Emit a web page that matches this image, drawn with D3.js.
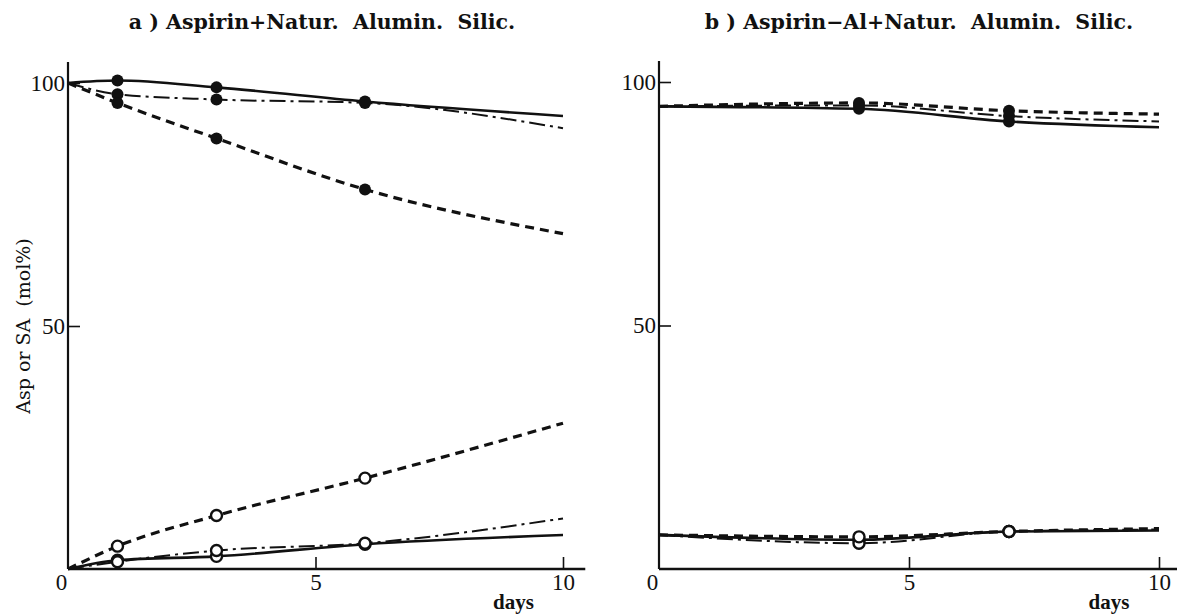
<!DOCTYPE html>
<html>
<head>
<meta charset="utf-8">
<script src="https://cdn.jsdelivr.net/npm/d3@7"></script>
<style>
  body { margin: 0; background: #fff; }
  text { font-family: "Liberation Serif", "DejaVu Serif", serif; fill: #111; }
</style>
</head>
<body>
<div id="chart"></div>
<script>
// data (days vs mol %)
var daysA = [0, 1, 3, 6, 10];
var aspSolidA = [100, 100.5, 99.1, 96.2, 93.2];
var aspDashDotA = [100, 97.7, 96.6, 95.9, 90.7];
var aspDashedA = [100, 95.9, 88.6, 78.1, 69];
var saSolidA = [0, 1.8, 2.6, 5.1, 7.0];
var saDashDotA = [0, 1.5, 3.8, 5.3, 10.4];
var saDashedA = [0, 4.7, 11.0, 18.7, 30.0];

var daysB = [0, 4, 7, 10];
var aspSolidB = [95, 94.5, 91.9, 90.7];
var aspDashDotB = [95, 95.2, 93.0, 91.9];
var aspDashedB = [95, 95.7, 94.1, 93.4];
var saSolidB = [7.0, 6.0, 7.7, 7.9];
var saDashDotB = [7.0, 5.3, 7.7, 8.1];
var saDashedB = [7.0, 6.6, 7.7, 8.3];

var xTicks = [0, 5, 10];
var yTicks = [50, 100];
var titleA = "a ) Aspirin+Natur.  Alumin.  Silic.";
var titleB = "b ) Aspirin\u2212Al+Natur.  Alumin.  Silic.";

var svg = d3.select("#chart").append("svg")
  .attr("width", 1179)
  .attr("height", 616);

// line styles
var styles = {
  solid: { width: 2.6, dash: null },
  dashdot: { width: 2, dash: "16,5,3,5" },
  dashed: { width: 3.2, dash: "9,6" }
};

function drawPanel(opt) {
  var x = d3.scaleLinear().domain([0, 10]).range(opt.xr);
  var y = d3.scaleLinear().domain([0, 100]).range(opt.yr);
  var g = svg.append("g");

  // y axis
  var yAx = g.append("g")
    .attr("transform", "translate(" + x(0) + ",0)")
    .call(d3.axisLeft(y).tickValues(yTicks).tickSize(-12).tickPadding(3));
  yAx.select(".domain").remove();
  yAx.selectAll("line").attr("stroke", "#111").attr("stroke-width", 1.6);
  yAx.selectAll("text").attr("font-size", 23).attr("fill", "#111")
    .style("font-family", "Liberation Serif");

  g.append("line")
    .attr("x1", x(0)).attr("x2", x(0))
    .attr("y1", y(0)).attr("y2", y(104.3))
    .attr("stroke", "#111").attr("stroke-width", 2.2);

  // x axis
  var xAx = g.append("g")
    .attr("transform", "translate(0," + y(0) + ")")
    .call(d3.axisBottom(x).tickValues(xTicks).tickSize(-12).tickPadding(5));
  xAx.select(".domain").remove();
  xAx.selectAll("line").attr("stroke", "#111").attr("stroke-width", 1.6)
    .filter(function(d) { return d === 0; }).remove();
  xAx.selectAll("text").attr("font-size", 23).attr("fill", "#111")
    .style("font-family", "Liberation Serif")
    .attr("dx", function(d) { return d === 0 ? -7 : 0; });

  g.append("line")
    .attr("x1", x(0)).attr("x2", x(opt.xEnd))
    .attr("y1", y(0)).attr("y2", y(0))
    .attr("stroke", "#111").attr("stroke-width", 2.4);

  g.append("text")
    .attr("x", x(9.0)).attr("y", y(0) + 40)
    .attr("text-anchor", "middle")
    .attr("font-size", 21)
    .attr("font-weight", "bold")
    .text("days");

  g.append("text")
    .attr("x", opt.titleX).attr("y", 29)
    .attr("text-anchor", "middle")
    .attr("font-size", 20.5)
    .attr("font-weight", "bold")
    .style("font-family", "DejaVu Serif")
    .style("white-space", "pre")
    .text(opt.title);

  var line = d3.line()
    .x(function(d) { return x(d[0]); })
    .y(function(d) { return y(d[1]); })
    .curve(d3.curveMonotoneX);

  opt.series.forEach(function(s) {
    var pts = opt.days.map(function(d, i) { return [d, s.values[i]]; });
    var st = styles[s.style];
    g.append("path")
      .datum(pts)
      .attr("d", line)
      .attr("fill", "none")
      .attr("stroke", "#111")
      .attr("stroke-width", st.width)
      .attr("stroke-dasharray", st.dash);
  });

  // markers at measured days only (not at the start / extrapolated end)
  opt.series.forEach(function(s) {
    var pts = opt.days.map(function(d, i) { return [d, s.values[i]]; })
      .slice(1, opt.days.length - 1);
    g.selectAll(null)
      .data(pts)
      .join("circle")
      .attr("cx", function(d) { return x(d[0]); })
      .attr("cy", function(d) { return y(d[1]); })
      .attr("r", s.filled ? 6 : 5.5)
      .attr("fill", s.filled ? "#111" : "#fff")
      .attr("stroke", "#111")
      .attr("stroke-width", s.filled ? 0 : 2.4);
  });
}

drawPanel({
  xr: [68, 563], yr: [569, 83], xEnd: 10.45, titleX: 322, title: titleA,
  days: daysA,
  series: [
    { values: aspSolidA, style: "solid", filled: true },
    { values: aspDashDotA, style: "dashdot", filled: true },
    { values: aspDashedA, style: "dashed", filled: true },
    { values: saSolidA, style: "solid", filled: false },
    { values: saDashDotA, style: "dashdot", filled: false },
    { values: saDashedA, style: "dashed", filled: false }
  ]
});

drawPanel({
  xr: [659, 1159], yr: [569, 82], xEnd: 10.36, titleX: 919, title: titleB,
  days: daysB,
  series: [
    { values: aspSolidB, style: "solid", filled: true },
    { values: aspDashDotB, style: "dashdot", filled: true },
    { values: aspDashedB, style: "dashed", filled: true },
    { values: saSolidB, style: "solid", filled: false },
    { values: saDashDotB, style: "dashdot", filled: false },
    { values: saDashedB, style: "dashed", filled: false }
  ]
});

// shared y label
svg.append("text")
  .attr("transform", "translate(30,326) rotate(-90)")
  .attr("text-anchor", "middle")
  .attr("font-size", 19)
  .style("font-family", "DejaVu Serif")
  .style("white-space", "pre")
  .text("Asp or SA  (mol%)");
</script>
</body>
</html>
